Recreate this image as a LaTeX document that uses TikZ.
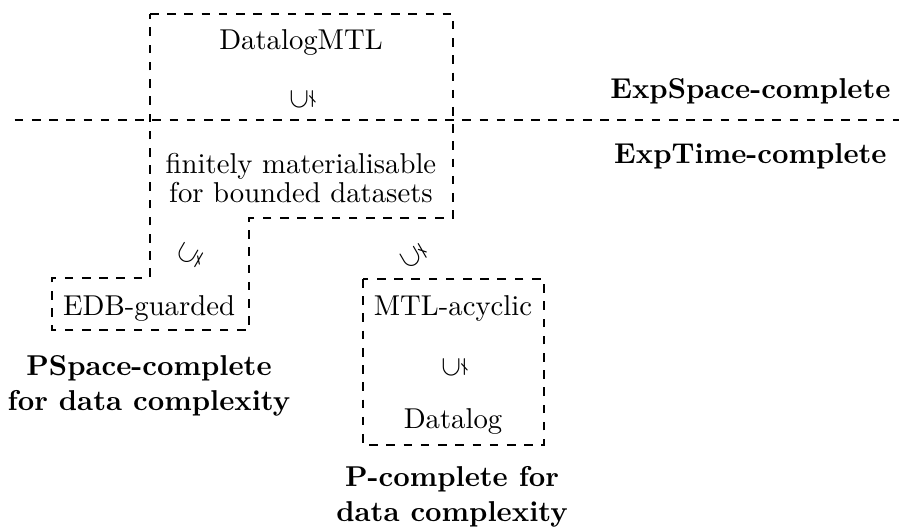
\documentclass[tikz,border=0pt]{standalone}
\usepackage{amssymb}
\begin{document}
\begin{tikzpicture}
  \tikzset{classbox/.style={dashed}, sep/.style={dashed, line width=1pt},
    cplx/.style={font=\bfseries, align=center}}
  \useasboundingbox (0.0,0.0) rectangle (11.01,6.503);

  % Draw complexity border between ExpSpace and ExpTime
  \draw[sep] (0.18,5.034) -- (11.01,5.034);
  \node (expspace) at (9.19,5.389) [cplx] {ExpSpace-complete};
  \node (exptime) at (9.19,4.593) [cplx] {ExpTime-complete};

  % Draw outline of DatalogMTL, finitely materialisable and EDB-guarded
  \draw[classbox] (1.837,6.332) -- (5.548,6.332) -- (5.548,3.833) -- (3.050,3.833)
    -- (3.050,2.462) -- (0.637,2.462) -- (0.637,3.099) -- (1.837,3.099) -- cycle;
  \node (dmtl) at (3.686,5.977) {DatalogMTL};
  \node (sub1) at (3.699,5.291) [rotate=90] {$\subsetneq$};
  \node (finmat) at (3.686,4.323) [align=center] {finitely materialisable\\[-2pt]for bounded datasets};
  \node (edb) at (1.825,2.731) {EDB-guarded};
  \node (sub2) at (2.327,3.380) [rotate=60] {$\subsetneq$};

  % Draw outline of MTL-acyclic and Datalog
  \draw[classbox] (4.446,3.086) rectangle (6.663,1.053);
  \node (acyc) at (5.548,2.731) {MTL-acyclic};
  \node (sub3) at (5.070,3.368) [rotate=120] {$\subsetneq$};
  \node (sub4) at (5.560,2.009) [rotate=90] {$\subsetneq$};
  \node (datalog) at (5.548,1.335) {Datalog};

  % Data complexity below the classes
  \node (pspace) at (1.825,1.776) [cplx] {PSpace-complete\\for data complexity};
  \node (ptime) at (5.536,0.416) [cplx] {P-complete for\\data complexity};
\end{tikzpicture}
\end{document}
